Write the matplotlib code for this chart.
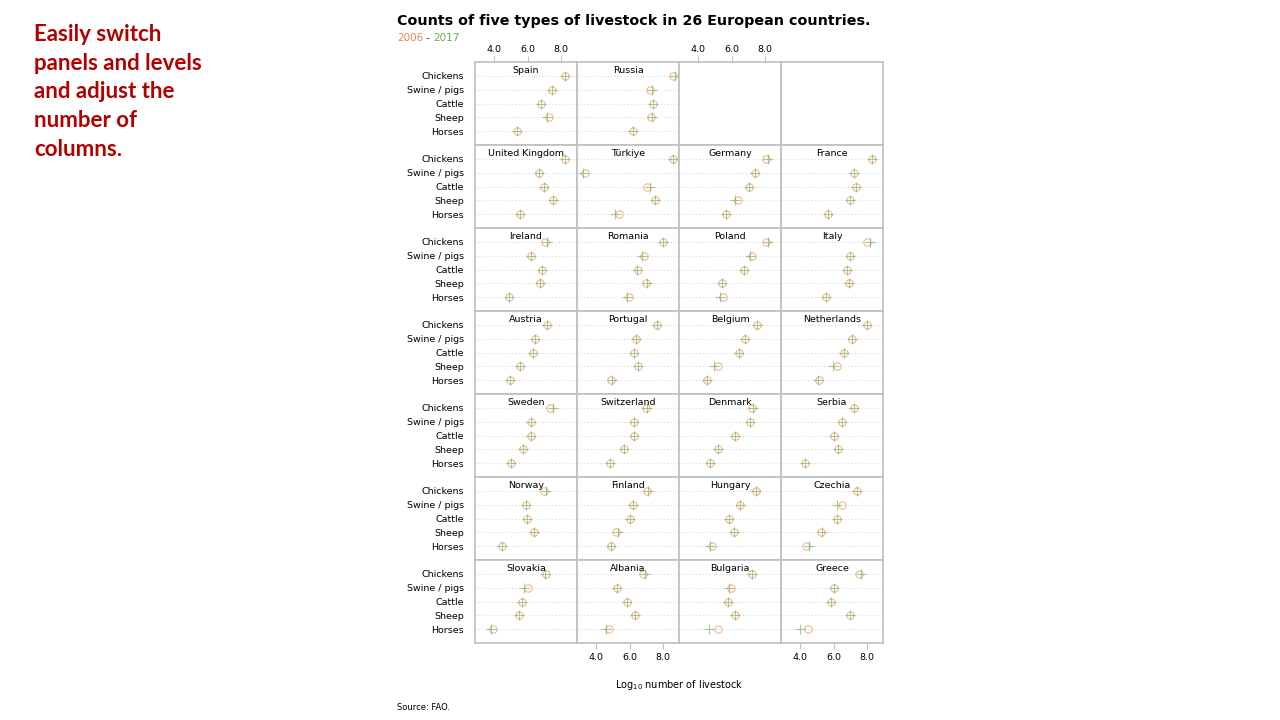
import numpy as np
import matplotlib
matplotlib.use("Agg")
import matplotlib.pyplot as plt

animals = ["Chickens", "Swine / pigs", "Cattle", "Sheep", "Horses"]

# panels in lattice order: bottom-left first, left to right, upwards
countries = ["Slovakia", "Albania", "Bulgaria", "Greece",
             "Norway", "Finland", "Hungary", "Czechia",
             "Sweden", "Switzerland", "Denmark", "Serbia",
             "Austria", "Portugal", "Belgium", "Netherlands",
             "Ireland", "Romania", "Poland", "Italy",
             "United Kingdom", "Türkiye", "Germany", "France",
             "Spain", "Russia"]

# log10 counts, columns follow `animals`
y2006 = [[7.10, 6.03, 5.69, 5.51, 3.92],
         [6.78, 5.23, 5.83, 6.33, 4.78],
         [7.24, 5.97, 5.77, 6.21, 5.17],
         [7.54, 5.99, 5.85, 6.98, 4.46],
         [7.00, 5.91, 5.95, 6.37, 4.48],
         [7.02, 6.19, 6.03, 5.17, 4.86],
         [7.48, 6.51, 5.85, 6.11, 4.82],
         [7.42, 6.48, 6.17, 5.23, 4.36],
         [7.36, 6.21, 6.21, 5.71, 4.98],
         [6.96, 6.27, 6.27, 5.69, 4.80],
         [7.24, 7.08, 6.17, 5.21, 4.72],
         [7.22, 6.52, 6.03, 6.23, 4.30],
         [7.16, 6.46, 6.29, 5.53, 4.94],
         [7.62, 6.35, 6.23, 6.50, 4.86],
         [7.54, 6.78, 6.41, 5.17, 4.52],
         [7.97, 7.10, 6.62, 6.17, 5.15],
         [7.06, 6.19, 6.84, 6.74, 4.90],
         [7.97, 6.86, 6.48, 6.96, 5.95],
         [8.05, 7.22, 6.72, 5.45, 5.47],
         [8.01, 7.00, 6.80, 6.90, 5.53],
         [8.21, 6.70, 7.00, 7.54, 5.57],
         [8.57, 3.35, 7.06, 7.50, 5.39],
         [8.03, 7.42, 7.06, 6.37, 5.67],
         [8.31, 7.20, 7.34, 6.98, 5.67],
         [8.23, 7.44, 6.78, 7.26, 5.39],
         [8.61, 7.20, 7.38, 7.26, 6.19]]

y2017 = [[7.02, 5.77, 5.69, 5.51, 3.80],
         [6.94, 5.23, 5.83, 6.33, 4.60],
         [7.24, 5.83, 5.77, 6.21, 4.64],
         [7.66, 5.99, 5.85, 6.98, 3.98],
         [7.12, 5.91, 5.95, 6.37, 4.48],
         [7.10, 6.19, 6.03, 5.29, 4.86],
         [7.48, 6.51, 5.85, 6.11, 4.70],
         [7.42, 6.19, 6.17, 5.31, 4.54],
         [7.50, 6.21, 6.21, 5.71, 4.98],
         [7.04, 6.27, 6.27, 5.69, 4.80],
         [7.28, 7.08, 6.17, 5.21, 4.72],
         [7.22, 6.52, 6.03, 6.23, 4.30],
         [7.16, 6.46, 6.29, 5.53, 4.94],
         [7.62, 6.35, 6.23, 6.50, 4.92],
         [7.54, 6.78, 6.41, 4.94, 4.52],
         [7.97, 7.10, 6.62, 5.97, 5.07],
         [7.14, 6.19, 6.84, 6.74, 4.90],
         [7.97, 6.76, 6.42, 7.06, 5.83],
         [8.19, 7.08, 6.72, 5.45, 5.31],
         [8.17, 7.00, 6.80, 6.90, 5.53],
         [8.21, 6.70, 7.00, 7.54, 5.57],
         [8.57, 3.19, 7.22, 7.54, 5.13],
         [8.19, 7.42, 7.06, 6.21, 5.67],
         [8.31, 7.20, 7.34, 6.98, 5.67],
         [8.23, 7.44, 6.78, 7.16, 5.39],
         [8.69, 7.34, 7.38, 7.36, 6.19]]

xticks = [4.0, 6.0, 8.0]

c2006 = "#E8884A"
c2017 = "#6BAA50"
frame = "#BFBFBF"

plt.rcParams["font.family"] = ["DejaVu Sans"]
W, H = 1280, 720
fig = plt.figure(figsize=(12.8, 7.2), dpi=100)

nrow, ncol = 7, 4
gs = fig.add_gridspec(nrow, ncol, left=475/W, right=883/W,
                      top=1 - 62/H, bottom=1 - 643/H, wspace=0, hspace=0)

ypos = np.arange(1, len(animals) + 1)
axes = {}
for r in range(nrow):
    for c in range(ncol):
        ax = fig.add_subplot(gs[r, c])
        axes[(r, c)] = ax
        ax.set_xlim(2.85, 8.95)
        ax.set_ylim(6, 0)
        for s in ax.spines.values():
            s.set_color(frame)
            s.set_linewidth(1.2)
        ax.set_xticks([])
        ax.set_yticks([])

for i, name in enumerate(countries):
    r = nrow - 1 - i // ncol
    c = i % ncol
    ax = axes[(r, c)]
    for y in ypos:
        ax.axhline(y, color="#D9D9D9", lw=0.8, ls=(0, (1, 2)), zorder=1)
    ax.plot(y2006[i], ypos, ls="none", marker="o", ms=5.3, mfc="none",
            mec=c2006, mew=0.8, alpha=0.6, zorder=3)
    ax.plot(y2017[i], ypos, ls="none", marker="+", ms=7, mec=c2017,
            mew=0.8, alpha=0.6, zorder=3)
    ax.text(5.9, 0.6, name, ha="center", va="center", fontsize=6.8)
    if c == 0:
        ax.set_yticks(ypos)
        ax.set_yticklabels(animals, fontsize=6.8)
        ax.tick_params(axis="y", length=0, pad=8)

# alternating tick axes, lattice style
for c in (0, 2):
    ax = axes[(0, c)]
    ax.xaxis.tick_top()
    ax.set_xticks(xticks)
    ax.set_xticklabels(["%.1f" % t for t in xticks], fontsize=6.8)
    ax.tick_params(axis="x", length=4, color=frame, pad=2)
for c in (1, 3):
    ax = axes[(nrow - 1, c)]
    ax.set_xticks(xticks)
    ax.set_xticklabels(["%.1f" % t for t in xticks], fontsize=6.8)
    ax.tick_params(axis="x", length=4, color=frame, pad=3)

fig.text(397/W, 1 - 21/H, "Counts of five types of livestock in 26 European countries.",
         fontsize=10.3, fontweight="bold", va="center", ha="left")
t1 = fig.text(397/W, 1 - 38/H, "2006", color=c2006, fontsize=7.5, va="center")
fig.canvas.draw()
bb = t1.get_window_extent()
t2 = fig.text(bb.x1/W, 1 - 38/H, " - ", color="#333333", fontsize=7.5, va="center")
bb = t2.get_window_extent()
fig.text(bb.x1/W, 1 - 38/H, "2017", color=c2017, fontsize=7.5, va="center")

fig.text(679/W, 1 - 685/H, r"Log$_{10}$ number of livestock", fontsize=7,
         ha="center", va="center")
fig.text(397/W, 1 - 708/H, "Source: FAO.", fontsize=6, ha="left", va="center")

fig.text(34/W, 1 - 24/H,
         "Easily switch\npanels and levels\nand adjust the\nnumber of\ncolumns.",
         color="#B00000", fontsize=16, fontweight="bold", family=["Lato", "DejaVu Sans"],
         ha="left", va="top", linespacing=1.45)

fig.savefig("out.png", dpi=100)
